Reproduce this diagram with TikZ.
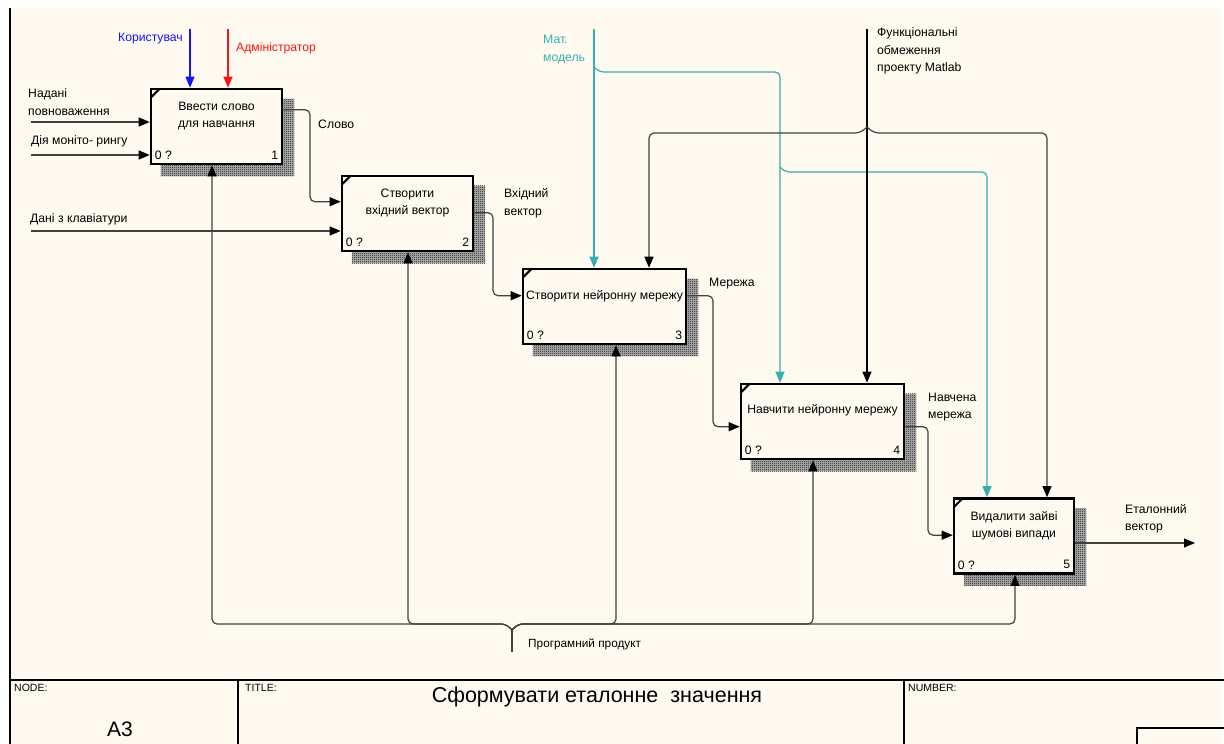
\documentclass[tikz,border=0pt]{standalone}
\usepackage{fontspec}
\setmainfont{Liberation Sans}
\usetikzlibrary{arrows.meta,calc,patterns}
\definecolor{paper}{RGB}{255,250,240}
\definecolor{wire}{RGB}{65,65,65}
\definecolor{tealwire}{RGB}{52,176,178}
\definecolor{ctlblue}{RGB}{20,20,255}
\definecolor{ctlred}{RGB}{250,20,20}
% fine checker used for the activity shadows
\pgfdeclarepatternformonly{dither}{\pgfpointorigin}{\pgfpoint{2pt}{2pt}}{\pgfpoint{2pt}{2pt}}{%
  \pgfpathrectangle{\pgfpointorigin}{\pgfpoint{1pt}{1pt}}%
  \pgfpathrectangle{\pgfpoint{1pt}{1pt}}{\pgfpoint{1pt}{1pt}}%
  \pgfusepath{fill}}
\pgfdeclarelayer{bg}
\pgfdeclarelayer{shade}
\pgfsetlayers{bg,shade,main}

\begin{document}
\begin{tikzpicture}[x=1pt,y=-1pt,
  lbl/.style={inner sep=0pt, font=\fontsize{12.2}{17.5}\selectfont, align=left, anchor=west},
  boxtxt/.style={inner sep=0pt, font=\fontsize{12.2}{17.5}\selectfont, align=center},
  act/.style={draw=black, line width=2.6pt, fill=paper, minimum height=75pt, inner sep=0pt},
  tip/.style={-{Triangle[length=11pt,width=9pt,color=#1]}},
  arr/.style={draw=wire, line width=1.2pt, tip=black},
  wireline/.style={draw=wire, line width=1.2pt},
  tarr/.style={draw=tealwire, line width=1.2pt, tip=tealwire},
  frame/.style={draw=black, line width=1.3pt},
  small/.style={inner sep=0pt, font=\fontsize{10.5}{12}\selectfont, anchor=north west},
]
\useasboundingbox (0,0) rectangle (1224,744);
\begin{pgfonlayer}{bg}
  \fill[white] (0,0) rectangle (1224,744);
  \fill[paper] (10,8) rectangle (1221,744);
\end{pgfonlayer}

% ---------- activities ----------
\node[act, minimum width=131pt] (b1) at (216.5,126.5) {};
\node[act, minimum width=131pt] (b2) at (407.5,213.5) {};
\node[act, minimum width=163pt] (b3) at (604.5,306.5) {};
\node[act, minimum width=163pt] (b4) at (822.5,421.5) {};
\node[act, minimum width=120pt] (b5) at (1014,536) {};

\begin{pgfonlayer}{shade}
  \foreach \b in {b1,b2,b3,b4,b5}{
    \fill[black!30]
      ($(\b.south west)+(11,11)$) rectangle ($(\b.north east)+(11,11)$);
    \fill[pattern=dither, pattern color=black!90]
      ($(\b.south west)+(11,11)$) rectangle ($(\b.north east)+(11,11)$);
  }
\end{pgfonlayer}

\foreach \b/\n in {b1/1,b2/2,b3/3,b4/4,b5/5}{
  \draw[line width=2pt] ($(\b.north west)+(1,10)$) -- ($(\b.north west)+(10,1)$);
  \node[boxtxt, anchor=west] (\b z) at ($(\b.south west)+(5,-10)$) {0 ?};
  \node[boxtxt, anchor=east] (\b n) at ($(\b.south east)+(-5,-10)$) {\n};
}
\node[boxtxt] (t1) at ($(b1.north)+(0,28.5)$) {Ввести слово\\для навчання};
\node[boxtxt] (t2) at ($(b2.north)+(0,28.5)$) {Створити\\вхідний вектор};
\node[boxtxt] (t3) at ($(b3.north)+(0,29)$) {Створити нейронну мережу};
\node[boxtxt] (t4) at ($(b4.north)+(0,28)$) {Навчити нейронну мережу};
\node[boxtxt] (t5) at ($(b5.north)+(0,28.5)$) {Видалити зайві\\шумові випади};

% ---------- inputs ----------
\coordinate (in1) at (31,122);
\coordinate (in2) at (31,155);
\coordinate (in3) at (31,231);
\draw[arr] (in1) -- (in1 -| b1.west);
\draw[arr] (in2) -- (in2 -| b1.west);
\draw[arr] (in3) -- (in3 -| b2.west);
\node[lbl] (l1) at (28,102) {Надані\\повноваження};
\node[lbl] (l2) at (31,141) {Дія моніто- рингу};
\node[lbl] (l3) at (30,219) {Дані з клавіатури};

% ---------- controls ----------
\coordinate (cu) at (190,29);
\coordinate (ca) at (228,29);
\draw[line width=1.2pt, draw=ctlblue, tip=ctlblue] (cu) -- (cu |- b1.north);
\draw[line width=1.2pt, draw=ctlred, tip=ctlred] (ca) -- (ca |- b1.north);
\node[lbl, anchor=east, text=ctlblue] (lu) at (183,39) {Користувач};
\node[lbl, text=ctlred] (la) at (236,48) {Адміністратор};

\coordinate (cm) at (594,29);
\coordinate (cm4) at (780,72);
\coordinate (cm5) at (987,172);
\draw[tarr] (cm) -- (cm |- b3.north);
\draw[tarr, rounded corners=5pt] (594,67) -- (599,72) -- (cm4) -- (cm4 |- b4.north);
\draw[tarr, rounded corners=5pt] (780,167) -- (785,172) -- (cm5) -- (cm5 |- b5.north);
\node[lbl, text=tealwire] (lm) at (543,49.5) {Мат.\\модель};

\coordinate (cf) at (867,29);
\coordinate (cf3) at (649,133);
\coordinate (cf5) at (1047,133);
\draw[arr, draw=black] (cf) -- (cf |- b4.north);
\draw[arr, rounded corners=5pt] (867,127) -- (860,133) -- (cf3) -- (cf3 |- b3.north);
\draw[arr, rounded corners=5pt] (867,127) -- (874,133) -- (cf5) -- (cf5 |- b5.north);
\node[lbl] (lf) at (877,51) {Функціональні\\обмеження\\проекту Matlab};

% ---------- outputs ----------
\draw[arr, rounded corners=5pt] ($(b1.north east)+(0,22)$) -| (310,160) |- ($(b2.north west)+(0,27)$);
\draw[arr, rounded corners=5pt] ($(b2.north east)+(0,38)$) -| (493,260) |- ($(b3.north west)+(0,28)$);
\draw[arr, rounded corners=5pt] ($(b3.north east)+(0,28)$) -| (713,380) |- ($(b4.north west)+(0,44)$);
\draw[arr, rounded corners=5pt] ($(b4.north east)+(0,44)$) -| (928,490) |- ($(b5.north west)+(0,38)$);
\coordinate (out) at (1195,543);
\draw[arr] (b5.east |- out) -- (out);
\node[lbl] (lo1) at (318,124) {Слово};
\node[lbl] (lo2) at (504,203) {Вхідний\\вектор};
\node[lbl] (lo3) at (709,284) {Мережа};
\node[lbl] (lo4) at (928,407) {Навчена\\мережа};
\node[lbl] (lo5) at (1125,518.5) {Еталонний\\вектор};

% ---------- mechanisms ----------
\coordinate (mp) at (512,652);
\coordinate (mj) at (512,630);
\coordinate (m1) at (212,624);
\coordinate (m2) at (408,624);
\coordinate (m3) at (616,624);
\coordinate (m4) at (813,624);
\coordinate (m5) at (1015,624);
\draw[wireline] (mp) -- (mj);
\draw[arr, rounded corners=5pt] (mj) -- (506,624) -- (m1) -- (m1 |- b1.south);
\draw[arr, rounded corners=5pt] (mj) -- (506,624) -- (m2) -- (m2 |- b2.south);
\draw[arr, rounded corners=5pt] (mj) -- (518,624) -- (m3) -- (m3 |- b3.south);
\draw[arr, rounded corners=5pt] (mj) -- (518,624) -- (m4) -- (m4 |- b4.south);
\draw[arr, rounded corners=5pt] (mj) -- (518,624) -- (m5) -- (m5 |- b5.south);
\node[lbl, font=\fontsize{11.8}{12}\selectfont] (lp) at (528,644) {Програмний продукт};

% ---------- title block ----------
\draw[frame] (10,8) -- (10,744);
\draw[frame] (10,680) -- (1224,680);
\draw[frame] (238,680) -- (238,744);
\draw[frame] (904,680) -- (904,744);
\draw[frame] (1137,744) -- (1137,728) -- (1224,728);
\node[small] (nn) at (14,684) {NODE:};
\node[small] (nt) at (245,684) {TITLE:};
\node[small] (nu) at (908,684) {NUMBER:};
\node[inner sep=0pt, font=\fontsize{21}{24}\selectfont] (na) at (120,729) {A3};
\node[inner sep=0pt, font=\fontsize{21.5}{24}\selectfont] (ttl) at (597,697) {Сформувати еталонне\ \ значення};
\end{tikzpicture}
\end{document}
